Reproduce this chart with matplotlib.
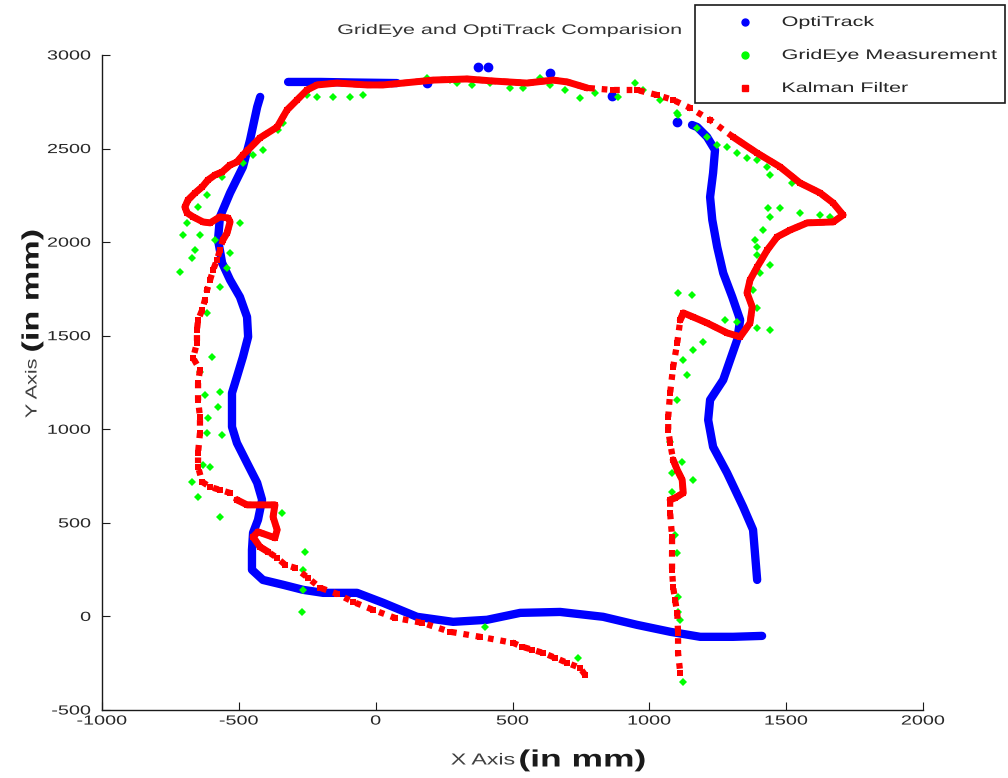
import numpy as np
import matplotlib.pyplot as plt
from matplotlib.lines import Line2D
from matplotlib.patches import Rectangle
from matplotlib.patheffects import AbstractPathEffect
from matplotlib.transforms import Affine2D

plt.rcParams['font.family'] = ['Liberation Sans', 'DejaVu Sans']
plt.rcParams['axes.unicode_minus'] = False

# OptiTrack (ground truth), in mm
opti_left_x = [-422, -433, -459, -485, -532, -569, -576, -561, -532, -496, -470, -466, -485, -507,
               -525, -525, -507, -470, -433, -415, -430, -448, -452, -452, -412, -338, -265, -192,
               -68, 27, 151, 283, 407, 528, 674, 831, 955, 1076, 1186, 1306, 1412]
opti_left_y = [2776, 2722, 2546, 2402, 2263, 2135, 2012, 1889, 1798, 1707, 1600, 1494, 1387, 1280,
               1194, 1013, 927, 820, 714, 623, 516, 447, 356, 249, 195, 169, 142, 126,
               126, 73, -2, -29, -18, 19, 24, -2, -45, -82, -109, -109, -104]
opti_right_x = [1394, 1379, 1343, 1284, 1233, 1215, 1222, 1270, 1321, 1332, 1303, 1270, 1248, 1230,
                1222, 1233, 1240, 1211, 1175, 1156]
opti_right_y = [195, 463, 585, 767, 906, 1050, 1157, 1264, 1478, 1584, 1707, 1835, 1974, 2119,
                2241, 2370, 2492, 2562, 2615, 2626]
opti_top_x = [-320, -200, -80, 78]
opti_top_y = [2856, 2856, 2853, 2850]
opti_spots_x = [188, 375, 410, 637, 864, 1102]
opti_spots_y = [2850, 2936, 2936, 2904, 2781, 2642]

# GridEye raw measurements
grid_x = [-251, -214, -156, -94, -46, -338, -357, -412, -448, -485, -561, -616, -649, -496, -689,
          -704, -642, -587, -532, -660, -671, -715, -543, -569, -616,
          -598, -642, -569, -624, -576, -613, -616, -561, -605, -631, -671, -649, -569, -342, -258,
          -265, -265, -269, 400, 740,
          188, 272, 298, 352, 418, 491, 539, 601, 637, 692, 747, 802, 886, 948, 977, 1039, 1102,
          1105, 1175, 1211, 1248, 1284, 1321, 1357, 1394, 1431, 1442, 1522, 1434, 1478, 1442, 1551,
          1624, 1661, 1416, 1387, 1394, 1394, 1442, 1405, 1379, 1105, 1156, 1394, 1277, 1321, 1394,
          1442, 1197, 1160, 1124, 1138, 1102, 1076, 1120, 1083, 1160, 1083, 1094, 1102, 1105, 1105,
          1113, 1124]
grid_y = [2786, 2776, 2776, 2776, 2786, 2637, 2599, 2493, 2466, 2423, 2348, 2252, 2188, 2103, 2103,
          2038, 2038, 2012, 1942, 1958, 1916, 1841, 1862, 1761, 1622,
          1387, 1307, 1200, 1184, 1120, 1061, 981, 970, 799, 810, 719, 639, 532, 553, 345,
          249, 142, 25, -56, -221,
          2877, 2866, 2850, 2840, 2850, 2824, 2824, 2877, 2840, 2813, 2770, 2797, 2776, 2850, 2813,
          2760, 2690,
          2679, 2610, 2562, 2519, 2509, 2476, 2450, 2439, 2402, 2359, 2316, 2183, 2183, 2135, 2156,
          2145, 2135, 2065, 2012, 1974, 1932, 1878, 1835, 1745, 1729, 1718, 1648, 1584, 1574, 1542,
          1531, 1467, 1424, 1371, 1291, 1157, 933, 826, 767, 730, 666, 436, 340, 105, 25,
          -18, -349]

# Kalman filter estimate
kalman_x = [765, 747, 700, 656, 612, 572, 535, 502, 382, 272,
            170, 71, -9, -83, -141, -203, -247, -295, -331, -360,
            -393, -423, -448, -430, -368, -360, -375, -368, -423, -470,
            -507, -532, -569, -605, -634, -649, -649, -642, -642, -649,
            -649, -642, -667, -653, -653, -649, -634, -624, -616, -605,
            -594, -580, -569, -558, -543, -532, -539, -569, -605, -631,
            -667, -689, -697, -686, -660, -634, -613, -587, -561, -532,
            -507, -485, -466, -423, -360, -324, -287, -251, -214, -141,
            -31, 27, 100, 210, 334, 429, 553, 648, 700, 773,
            868, 955, 1029, 1087, 1149, 1222, 1306, 1394, 1478, 1551,
            1624, 1672, 1708, 1672, 1577, 1515, 1467, 1431, 1394, 1368,
            1357, 1376, 1368, 1332, 1284, 1211, 1160, 1124, 1113, 1102,
            1087, 1076, 1069, 1069, 1076, 1087, 1102, 1120, 1124, 1094,
            1076, 1076, 1083, 1083, 1083, 1087, 1094, 1102, 1105, 1105, 1113]
kalman_y = [-312, -275, -248, -221, -195, -178, -162, -141, -109, -82,
            -34, -8, 35, 78, 121, 153, 206, 260, 276, 313,
            345, 372, 425, 452, 420, 463, 532, 596, 596, 596,
            623, 660, 676, 692, 719, 799, 874, 981, 1066, 1157,
            1248, 1317, 1381, 1462, 1531, 1584, 1638, 1691, 1745, 1798,
            1851, 1905, 1958, 2012, 2049, 2108, 2129, 2135, 2103, 2108,
            2135, 2156, 2188, 2225, 2263, 2295, 2332, 2359, 2375, 2412,
            2428, 2466, 2493, 2557, 2615, 2706, 2760, 2813, 2840, 2850,
            2840, 2840, 2850, 2866, 2872, 2861, 2850, 2866, 2856, 2824,
            2813, 2813, 2786, 2760, 2717, 2653, 2562, 2476, 2402, 2316,
            2263, 2209, 2145, 2108, 2103, 2065, 2028, 1958, 1867, 1798,
            1729, 1654, 1568, 1494, 1515, 1568, 1600, 1622, 1584, 1462,
            1333, 1194, 1066, 997, 927, 837, 783, 730, 660, 633,
            623, 553, 425, 340, 249, 158, 89, 19, -88, -195, -301]

series_names = ['OptiTrack', 'GridEye Measurement', 'Kalman Filter']

BLUE, GREEN, RED = '#0000ff', '#00ff00', '#ff0000'
W, H = 1008, 778


class Expand(AbstractPathEffect):
    """widen glyphs along the text direction (the source screenshot has stretched fonts)"""
    def __init__(self, s, anchor='center'):
        super().__init__()
        self.s = s
        self.anchor = anchor

    def draw_path(self, renderer, gc, tpath, affine, rgbFace=None):
        ext = tpath.get_extents()
        x0 = {'left': ext.x0, 'center': 0.5 * (ext.x0 + ext.x1), 'right': ext.x1}[self.anchor]
        st = Affine2D().translate(-x0, 0).scale(self.s, 1).translate(x0, 0)
        renderer.draw_path(gc, tpath, st + affine, rgbFace)


fig = plt.figure(figsize=(W / 100, H / 100), dpi=100)
ax = fig.add_axes([102 / W, 68 / H, 821 / W, 655 / H])

# OptiTrack: dense stream of samples -> thick line
for xs, ys in [(opti_left_x, opti_left_y), (opti_right_x, opti_right_y), (opti_top_x, opti_top_y)]:
    ax.plot(xs, ys, color=BLUE, lw=6, solid_capstyle='round', solid_joinstyle='round', zorder=2)
ax.plot(opti_spots_x, opti_spots_y, ls='none', marker='o', ms=6, color=BLUE, zorder=2)

# GridEye
ax.plot(grid_x, grid_y, ls='none', marker='D', ms=4.5, mew=0, color=GREEN, zorder=3)

# Kalman: dotted where samples are spread, solid where they pile up
kx, ky = np.array(kalman_x), np.array(kalman_y)
ax.plot(kx, ky, color=RED, lw=4.5, ls=(0, (0.9, 1.1)), dash_capstyle='butt', zorder=4)
ax.plot(kx, ky, ls='none', marker='s', ms=4.5, mew=0, color=RED, zorder=4)
for sl in [slice(20, 31), slice(53, 90), slice(96, 119), slice(125, 131)]:
    ax.plot(kx[sl], ky[sl], color=RED, lw=5, solid_capstyle='round', solid_joinstyle='round', zorder=4)

ax.set_xlim(-1000, 2000)
ax.set_ylim(-500, 3000)
ax.set_xticks(np.arange(-1000, 2001, 500))
ax.set_yticks(np.arange(-500, 3001, 500))
for s in ['top', 'right']:
    ax.spines[s].set_visible(False)
for s in ['left', 'bottom']:
    ax.spines[s].set_color('#1a1a1a')
    ax.spines[s].set_linewidth(1.0)
ax.tick_params(direction='in', length=6, width=0.8, color='#1a1a1a', labelcolor='#262626',
               labelsize=9.5)
ax.tick_params(axis='x', pad=4)
ax.tick_params(axis='y', pad=8)
for lbl in ax.get_xticklabels():
    lbl.set_path_effects([Expand(1.5, 'center')])
for lbl in ax.get_yticklabels():
    lbl.set_path_effects([Expand(1.5, 'right')])

fig.text(510 / W, 1 - 30 / H, 'GridEye and OptiTrack Comparision', ha='center', va='center',
         fontsize=10, color='#333333', path_effects=[Expand(1.55, 'center')])

# axis labels: plain part + bold unit
fig.text(515 / W, 1 - 760 / H, 'X Axis', ha='right', va='center', fontsize=11.5, color='#404040',
         path_effects=[Expand(1.45, 'right')])
fig.text(519 / W, 1 - 760 / H, '(in mm)', ha='left', va='center', fontsize=17,
         fontweight='bold', color='#1a1a1a', path_effects=[Expand(1.5, 'left')])
fig.text(32 / W, 1 - 418 / H, 'Y Axis', ha='center', va='bottom', rotation=90, fontsize=11.5,
         color='#404040', path_effects=[Expand(1.35, 'left')])
fig.text(32 / W, 1 - 352 / H, '(in mm)', ha='center', va='bottom', rotation=90, fontsize=17,
         fontweight='bold', color='#1a1a1a', path_effects=[Expand(1.45, 'left')])

# legend box (drawn by hand so the widened labels fit like in the source)
fig.add_artist(Rectangle((695 / W, 1 - 103 / H), 310 / W, 98 / H, transform=fig.transFigure,
                         facecolor='white', edgecolor='#1a1a1a', lw=1.2, zorder=5))
leg_style = [dict(marker='o', ms=5, color=BLUE), dict(marker='o', ms=5, color=GREEN),
             dict(marker='s', ms=4, color=RED)]
for i, (name, st) in enumerate(zip(series_names, leg_style)):
    yy = 1 - (22 + 33 * i) / H
    fig.add_artist(Line2D([745 / W], [yy], transform=fig.transFigure, ls='none', zorder=6, **st))
    fig.text(782 / W, yy, name, ha='left', va='center', fontsize=10, color='#262626', zorder=6,
             path_effects=[Expand(1.55, 'left')])

fig.savefig('out.png', dpi=100)
